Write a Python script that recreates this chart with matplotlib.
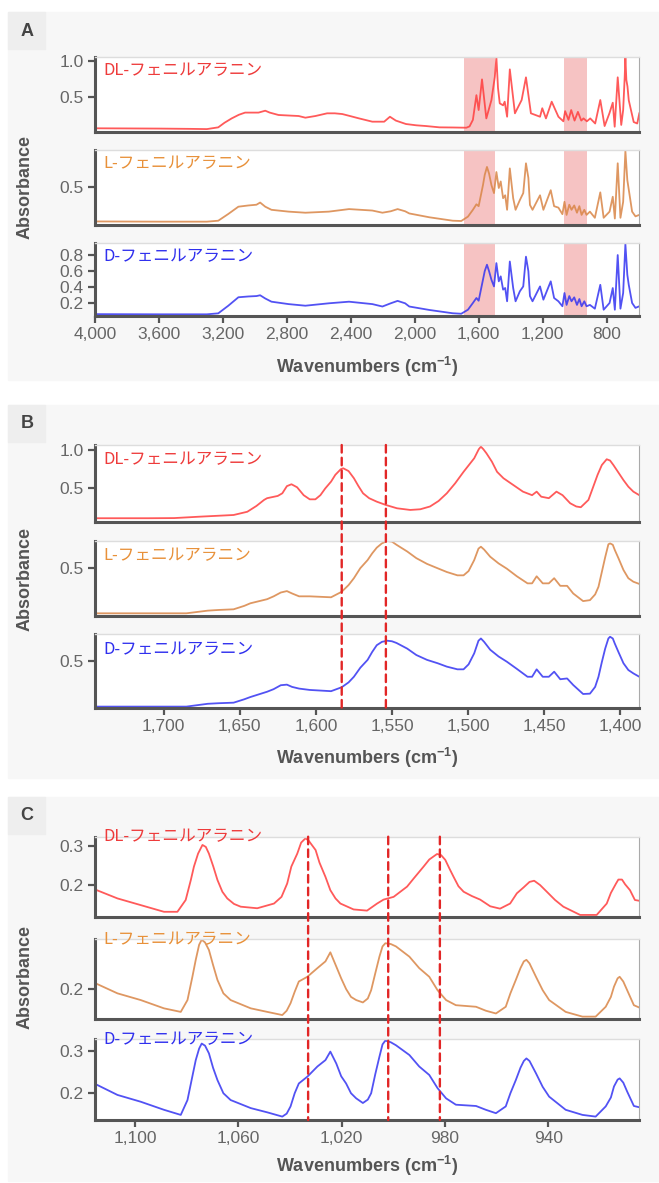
import matplotlib
matplotlib.use("Agg")
import matplotlib.pyplot as plt
from matplotlib.patches import Rectangle, ConnectionPatch
from matplotlib.ticker import FuncFormatter

# ---- Panel A : full range spectra (wavenumber, absorbance) ----
A_DL_WN = [4000, 3800, 3600, 3400, 3300, 3229, 3190, 3145, 3100, 3061, 3020, 2977,
           2935, 2907, 2852, 2790, 2726, 2684, 2621, 2548, 2500, 2453, 2400, 2348,
           2265, 2191, 2155, 2118, 2055, 1990, 1929, 1845, 1760, 1677, 1657, 1636,
           1614, 1600, 1579, 1552, 1520, 1499, 1489, 1479, 1468, 1447, 1437, 1422, 1405, 1373,
           1331, 1304, 1273, 1216, 1202, 1179, 1143, 1101, 1070, 1059, 1038, 1021,
           1000, 979, 958, 944, 923, 902, 871, 839, 812, 782, 761, 749, 730, 708,
           696, 686.5, 682, 676, 669, 661, 630, 608, 595]
A_DL_ABS = [0.074, 0.072, 0.07, 0.066, 0.063, 0.087, 0.15, 0.21, 0.26, 0.29, 0.29, 0.29,
            0.316, 0.29, 0.257, 0.25, 0.243, 0.22, 0.243, 0.28, 0.28, 0.27, 0.24, 0.21,
            0.165, 0.165, 0.233, 0.18, 0.133, 0.115, 0.105, 0.087, 0.085, 0.082, 0.1, 0.19,
            0.53, 0.325, 0.747, 0.21, 0.463, 0.78, 1.05, 0.63, 0.417, 0.39, 0.44, 0.233, 0.885, 0.28,
            0.463, 0.775, 0.28, 0.233, 0.35, 0.21, 0.44, 0.233, 0.17, 0.31, 0.19, 0.325,
            0.18, 0.30, 0.18, 0.21, 0.17, 0.21, 0.14, 0.463, 0.105, 0.28, 0.426, 0.096, 0.775, 0.12,
            0.325, 0.77, 1.05, 0.74, 0.65, 0.46, 0.16, 0.14, 0.28]

A_LD_WN = [4000, 3600, 3300, 3229, 3166, 3103, 3040, 2990, 2967, 2935, 2896, 2789,
           2684, 2537, 2411, 2265, 2202, 2150, 2107, 2060, 2034, 1908, 1762, 1709,
           1667, 1636, 1614, 1600, 1573, 1562, 1548, 1535, 1520, 1504, 1489, 1474, 1462, 1447,
           1434, 1422, 1405, 1384, 1369, 1342, 1321, 1304, 1289, 1279, 1263, 1216,
           1195, 1149, 1128, 1101, 1076, 1063, 1050, 1033, 1019, 1002, 985, 970,
           956, 939, 925, 904, 873, 839, 818, 781, 761, 748, 730, 713,
           696, 682, 670, 661, 640, 619, 595]
A_L_ABS = [0.03, 0.027, 0.027, 0.04, 0.133, 0.233, 0.25, 0.26, 0.29, 0.233, 0.19, 0.165,
           0.15, 0.165, 0.2, 0.18, 0.15, 0.17, 0.2, 0.17, 0.14, 0.087, 0.04, 0.036,
           0.096, 0.19, 0.266, 0.24, 0.53, 0.67, 0.78, 0.69, 0.53, 0.42, 0.71, 0.49, 0.58, 0.35,
           0.39, 0.19, 0.76, 0.35, 0.19, 0.325, 0.42, 0.83, 0.63, 0.257, 0.19, 0.39,
           0.19, 0.46, 0.24, 0.22, 0.13, 0.30, 0.12, 0.26, 0.19, 0.25, 0.15, 0.24,
           0.12, 0.19, 0.12, 0.165, 0.08, 0.43, 0.08, 0.165, 0.37, 0.07, 0.83, 0.08,
           0.30, 1.0, 0.6, 0.47, 0.165, 0.1, 0.12]
A_D_ABS = [0.065, 0.063, 0.063, 0.075, 0.17, 0.275, 0.285, 0.29, 0.30, 0.26, 0.22, 0.19,
           0.17, 0.2, 0.22, 0.19, 0.16, 0.2, 0.23, 0.2, 0.16, 0.117, 0.076, 0.07,
           0.12, 0.204, 0.266, 0.232, 0.493, 0.6, 0.68, 0.6, 0.493, 0.41, 0.70, 0.473, 0.535, 0.37,
           0.39, 0.225, 0.72, 0.39, 0.225, 0.35, 0.41, 0.78, 0.6, 0.29, 0.225, 0.41,
           0.245, 0.473, 0.266, 0.225, 0.163, 0.328, 0.18, 0.29, 0.225, 0.274, 0.18, 0.253,
           0.163, 0.225, 0.163, 0.18, 0.133, 0.43, 0.12, 0.204, 0.39, 0.12, 0.80, 0.133,
           0.328, 0.937, 0.556, 0.43, 0.204, 0.143, 0.163]
A_SPANS = [(1694, 1495), (1064, 921)]

# ---- Panel B : 1745-1388 cm-1 ----
B_DL_WN = [1745, 1710, 1693, 1676, 1654, 1645, 1639, 1634, 1632, 1625,
           1622, 1619, 1616, 1612.3, 1608, 1604, 1600.3, 1597, 1593.8, 1590,
           1587.2, 1583.6, 1582, 1578.5, 1575, 1572, 1569, 1565, 1560, 1554,
           1546.7, 1538, 1531.4, 1525, 1519.4, 1514, 1508.5, 1503, 1496, 1493,
           1491.6, 1490, 1488, 1484.4, 1481, 1476.8, 1472, 1464, 1458, 1455,
           1452, 1447, 1442, 1438, 1433, 1429, 1426, 1421, 1418.6, 1415,
           1412.2, 1409, 1406.8, 1404.6, 1401.3, 1398, 1394.8, 1391.5, 1387.6]
B_DL_ABS = [0.094, 0.094, 0.096, 0.115, 0.137, 0.18, 0.257, 0.337, 0.36, 0.39,
            0.425, 0.52, 0.545, 0.505, 0.40, 0.345, 0.345, 0.40, 0.49, 0.58,
            0.67, 0.745, 0.757, 0.72, 0.625, 0.52, 0.425, 0.36, 0.314, 0.27,
            0.226, 0.204, 0.213, 0.25, 0.323, 0.425, 0.558, 0.71, 0.89, 1.01,
            1.044, 1.01, 0.957, 0.845, 0.71, 0.625, 0.558, 0.447, 0.40, 0.447,
            0.38, 0.36, 0.447, 0.40, 0.293, 0.25, 0.24, 0.337, 0.47, 0.67,
            0.80, 0.877, 0.86, 0.80, 0.70, 0.60, 0.513, 0.447, 0.40]
B_LD_WN = [1745, 1685, 1671, 1664, 1654, 1647, 1643, 1632, 1627.7, 1623,
           1619, 1615.6, 1611, 1604, 1590, 1583, 1578.5, 1575, 1570.8, 1566,
           1563, 1560, 1556.6, 1553, 1550, 1547, 1540, 1534, 1527, 1520,
           1514, 1507, 1503, 1499.7, 1496, 1493.2, 1491.6, 1489.5, 1485.5, 1480,
           1474.6, 1468, 1461, 1458, 1455, 1451, 1447, 1443.5, 1439.5, 1435,
           1431, 1424.5, 1420, 1416.6, 1414.4, 1412.2, 1410, 1407.9, 1406.8, 1405,
           1403.7, 1401.3, 1398, 1394.8, 1391.5, 1387.6]
B_L_ABS = [0.022, 0.022, 0.05, 0.057, 0.064, 0.1, 0.127, 0.17, 0.2, 0.24,
           0.255, 0.23, 0.20, 0.20, 0.19, 0.248, 0.318, 0.39, 0.495, 0.58,
           0.65, 0.71, 0.755, 0.78, 0.773, 0.74, 0.67, 0.6, 0.54, 0.494,
           0.455, 0.42, 0.42, 0.465, 0.58, 0.70, 0.72, 0.69, 0.615, 0.545,
           0.49, 0.41, 0.336, 0.336, 0.41, 0.336, 0.336, 0.39, 0.31, 0.31,
           0.23, 0.15, 0.16, 0.22, 0.30, 0.455, 0.61, 0.745, 0.755, 0.74,
           0.686, 0.6, 0.476, 0.39, 0.353, 0.33]
B_D_ABS = [0.095, 0.095, 0.12, 0.125, 0.13, 0.16, 0.18, 0.227, 0.25, 0.285,
           0.29, 0.27, 0.255, 0.243, 0.232, 0.267, 0.31, 0.36, 0.44, 0.51,
           0.58, 0.64, 0.67, 0.68, 0.675, 0.66, 0.61, 0.553, 0.51, 0.48,
           0.45, 0.426, 0.426, 0.47, 0.568, 0.68, 0.70, 0.67, 0.6, 0.54,
           0.494, 0.43, 0.36, 0.36, 0.426, 0.36, 0.36, 0.405, 0.338, 0.345,
           0.287, 0.207, 0.21, 0.27, 0.36, 0.49, 0.61, 0.70, 0.715, 0.70,
           0.655, 0.58, 0.48, 0.42, 0.39, 0.36]
B_MARKS = [1583, 1554]

# ---- Panel C : 1115-905 cm-1 ----
C_DL_WN = [1114.8, 1106.8, 1097.8, 1088.8, 1083.6, 1080.4, 1078.4, 1077.2, 1075.6, 1073.9,
           1072.6, 1071.4, 1069.7, 1068.1, 1066.2, 1064.3, 1061.7, 1059.1, 1052.7, 1046.2,
           1043.3, 1041.1, 1039.5, 1037.2, 1035.7, 1034, 1032.8, 1030.1, 1028.6, 1026.3,
           1024.4, 1022.4, 1020.5, 1015.4, 1010.2, 1006.3, 1003.8, 999.9, 994.7, 992.1,
           988.3, 986.1, 983.1, 981.5, 979.9, 978.3, 976.7, 974.8, 972.8, 969.6,
           966.4, 962.5, 958.7, 954.8, 952.2, 949.6, 947.3, 945.5, 943.2, 940.6,
           937.4, 934.2, 927.7, 921.3, 917.4, 915.8, 913.8, 912.9, 911.5, 910.3,
           908.4, 906.5, 904.8]
C_DL_ABS = [0.187, 0.166, 0.149, 0.132, 0.132, 0.162, 0.213, 0.247, 0.28, 0.302,
            0.297, 0.28, 0.247, 0.213, 0.183, 0.166, 0.152, 0.145, 0.141, 0.153,
            0.17, 0.204, 0.247, 0.28, 0.308, 0.319, 0.313, 0.289, 0.257, 0.221,
            0.187, 0.166, 0.153, 0.138, 0.135, 0.153, 0.163, 0.17, 0.196, 0.217,
            0.247, 0.265, 0.279, 0.276, 0.264, 0.242, 0.221, 0.197, 0.183, 0.172,
            0.163, 0.146, 0.14, 0.153, 0.179, 0.194, 0.208, 0.211, 0.2, 0.183,
            0.162, 0.145, 0.124, 0.124, 0.153, 0.18, 0.204, 0.214, 0.214, 0.202,
            0.187, 0.162, 0.16]
C_LD_WN = [1114.8, 1106.8, 1097.8, 1088.8, 1082.3, 1079.7, 1077.8, 1076.5, 1075.2, 1074.2,
           1072.9, 1071.4, 1069.8, 1068.1, 1065.8, 1063, 1055.2, 1048.8, 1043, 1041.3,
           1039.8, 1038.2, 1036.6, 1033.3, 1029.4, 1026.3, 1024.4, 1022.1, 1020.2, 1018.3,
           1016.4, 1014.4, 1011.8, 1009.9, 1008.6, 1007, 1005.4, 1004.2, 1003.1, 1001,
           999, 993.8, 990, 986.1, 982.9, 979.6, 975.8, 968, 964.2, 960.3,
           956.5, 954.7, 952.6, 950.8, 949.5, 948.5, 947.3, 944.8, 942.2, 939.7,
           933.3, 926.8, 921.7, 917.8, 915.8, 914.6, 913.2, 912.4, 911, 909.5,
           906.9, 904.8]
C_L_ABS = [0.213, 0.189, 0.172, 0.151, 0.142, 0.172, 0.231, 0.274, 0.312, 0.325,
           0.318, 0.299, 0.261, 0.223, 0.189, 0.172, 0.151, 0.142, 0.134, 0.145,
           0.164, 0.193, 0.219, 0.231, 0.253, 0.27, 0.293, 0.257, 0.227, 0.2,
           0.18, 0.172, 0.166, 0.176, 0.197, 0.24, 0.282, 0.308, 0.316, 0.314,
           0.308, 0.282, 0.253, 0.231, 0.197, 0.172, 0.159, 0.155, 0.145, 0.138,
           0.155, 0.189, 0.223, 0.253, 0.27, 0.274, 0.265, 0.231, 0.197, 0.172,
           0.142, 0.13, 0.13, 0.155, 0.18, 0.206, 0.227, 0.231, 0.219, 0.197,
           0.159, 0.153]
C_D_ABS = [0.22, 0.196, 0.18, 0.161, 0.149, 0.184, 0.24, 0.278, 0.305, 0.317,
           0.312, 0.294, 0.26, 0.231, 0.2, 0.184, 0.165, 0.155, 0.145, 0.152,
           0.169, 0.2, 0.223, 0.239, 0.263, 0.278, 0.298, 0.27, 0.24, 0.223,
           0.2, 0.188, 0.177, 0.185, 0.2, 0.245, 0.286, 0.315, 0.324, 0.32,
           0.313, 0.29, 0.263, 0.243, 0.212, 0.188, 0.173, 0.17, 0.161, 0.153,
           0.169, 0.2, 0.231, 0.26, 0.276, 0.282, 0.276, 0.247, 0.215, 0.192,
           0.161, 0.149, 0.145, 0.169, 0.19, 0.216, 0.232, 0.235, 0.225, 0.204,
           0.17, 0.167]
C_MARKS = [1033, 1002, 982]

NAMES = ["DL-フェニルアラニン", "L-フェニルアラニン", "D-フェニルアラニン"]
LINE_COLORS = ["#ff3d3d", "#d98546", "#3434f2"]
TEXT_COLORS = ["#ee3b3b", "#e8913a", "#3030ee"]

W, H = 659, 1183
plt.rcParams['font.family'] = ['Liberation Sans', 'Noto Sans CJK JP']
plt.rcParams['mathtext.default'] = 'regular'

fig = plt.figure(figsize=(W / 100, H / 100), dpi=100)


def fx(px):
    return px / W


def fy(py):
    return 1 - py / H


def add_ax(top, bottom, left=95, right=639.3):
    return fig.add_axes([fx(left), fy(bottom), fx(right - left), (bottom - top) / H])


def style_ax(ax, xlim, ylim, yticks, show_x, xticks=None):
    ax.set_xlim(*xlim)
    ax.set_ylim(*ylim)
    ax.set_yticks(yticks)
    ax.yaxis.set_major_formatter(FuncFormatter(lambda v, p: f"{v:.1f}"))
    for s in ['left', 'bottom']:
        ax.spines[s].set_color('#555555')
        ax.spines[s].set_linewidth(2.2)
    ax.spines['top'].set_color('#dddddd')
    ax.spines['top'].set_linewidth(1)
    ax.spines['right'].set_color('#aaaaaa')
    ax.spines['right'].set_linewidth(0.8)
    ax.tick_params(direction='out', length=5, width=1.6, color='#555555',
                   labelcolor='#666666', labelsize=12.5, pad=3)
    if show_x:
        ax.set_xticks(xticks)
        ax.xaxis.set_major_formatter(FuncFormatter(lambda v, p: f"{int(v):,}"))
    else:
        ax.tick_params(axis='x', bottom=False, labelbottom=False)


def panel_frame(letter, top, bottom, xlabel_y, ylabel_y):
    fig.add_artist(Rectangle((fx(8), fy(bottom)), fx(W - 8), (bottom - top) / H,
                             transform=fig.transFigure, color='#f7f7f7', zorder=-2))
    fig.add_artist(Rectangle((fx(8), fy(top + 37)), fx(37), 37 / H,
                             transform=fig.transFigure, color='#eeeeee', zorder=-1))
    fig.text(fx(27), fy(top + 19), letter, ha='center', va='center',
             fontsize=13, fontweight='bold', color='#444444')
    fig.text(fx(367), fy(xlabel_y), 'Wavenumbers (cm$^{-1}$)', ha='center', va='center',
             fontsize=13, fontweight='bold', color='#555555')
    fig.text(fx(25), fy(ylabel_y), 'Absorbance', ha='center', va='center',
             rotation=90, fontsize=13, fontweight='bold', color='#555555')


def dashed_marks(ax_top, ax_bot, marks):
    for m in marks:
        con = ConnectionPatch(xyA=(m, 1), coordsA=ax_top.get_xaxis_transform(),
                              xyB=(m, 0), coordsB=ax_bot.get_xaxis_transform(),
                              color='#e22626', lw=1.7, linestyle=(0, (3.2, 2.2)), zorder=5)
        fig.add_artist(con)


# ---------------- Panel A ----------------
panel_frame('A', 12, 380, 367, 187)
A_BOXES = [(56.7, 132), (150, 225), (243, 316)]
A_YLIM = [(0.023, 1.059), (-0.019, 1.013), (0.042, 0.95)]
A_YTICKS = [[0.5, 1.0], [0.5], [0.2, 0.4, 0.6, 0.8]]
a_data = [(A_DL_WN, A_DL_ABS), (A_LD_WN, A_L_ABS), (A_LD_WN, A_D_ABS)]
for i in range(3):
    ax = add_ax(*A_BOXES[i])
    for lo, hi in A_SPANS:
        ax.axvspan(lo, hi, color='#f6c3c3', lw=0, zorder=0)
    ax.plot(a_data[i][0], a_data[i][1], color=LINE_COLORS[i], lw=1.3, alpha=0.85,
            zorder=2, solid_joinstyle='round')
    style_ax(ax, (4000, 595), A_YLIM[i], A_YTICKS[i], i == 2,
             [4000, 3600, 3200, 2800, 2400, 2000, 1600, 1200, 800])
    fig.text(fx(103), fy(A_BOXES[i][0] + 14), NAMES[i], ha='left', va='center',
             fontsize=12, color=TEXT_COLORS[i], family=['Noto Sans CJK JP'])

# ---------------- Panel B ----------------
panel_frame('B', 405, 778, 758, 579)
B_BOXES = [(445, 521.7), (540.7, 615.7), (634.3, 708.3)]
B_YLIM = [(0.048, 1.066), (-0.003, 0.783), (0.08, 0.737)]
B_YTICKS = [[0.5, 1.0], [0.5], [0.5]]
b_data = [(B_DL_WN, B_DL_ABS), (B_LD_WN, B_L_ABS), (B_LD_WN, B_D_ABS)]
b_axes = []
for i in range(3):
    ax = add_ax(*B_BOXES[i])
    ax.plot(b_data[i][0], b_data[i][1], color=LINE_COLORS[i], lw=1.3, alpha=0.85,
            zorder=2, solid_joinstyle='round')
    style_ax(ax, (1745, 1387.6), B_YLIM[i], B_YTICKS[i], i == 2,
             [1700, 1650, 1600, 1550, 1500, 1450, 1400])
    fig.text(fx(103), fy(B_BOXES[i][0] + 15), NAMES[i], ha='left', va='center',
             fontsize=12, color=TEXT_COLORS[i], family=['Noto Sans CJK JP'])
    b_axes.append(ax)
dashed_marks(b_axes[0], b_axes[2], B_MARKS)

# ---------------- Panel C ----------------
panel_frame('C', 797, 1181, 1166, 977)
C_BOXES = [(836.7, 917.3), (939.3, 1019), (1039.3, 1120)]
C_YLIM = [(0.118, 0.323), (0.124, 0.326), (0.137, 0.327)]
C_YTICKS = [[0.2, 0.3], [0.2], [0.2, 0.3]]
c_data = [(C_DL_WN, C_DL_ABS), (C_LD_WN, C_L_ABS), (C_LD_WN, C_D_ABS)]
c_axes = []
for i in range(3):
    ax = add_ax(*C_BOXES[i])
    ax.plot(c_data[i][0], c_data[i][1], color=LINE_COLORS[i], lw=1.3, alpha=0.85,
            zorder=2, solid_joinstyle='round')
    style_ax(ax, (1115.5, 904.8), C_YLIM[i], C_YTICKS[i], i == 2,
             [1100, 1060, 1020, 980, 940])
    fig.text(fx(103), fy(C_BOXES[i][0]), NAMES[i], ha='left', va='center',
             fontsize=12, color=TEXT_COLORS[i], family=['Noto Sans CJK JP'])
    c_axes.append(ax)
dashed_marks(c_axes[0], c_axes[2], C_MARKS)

fig.savefig('out.png', dpi=100)
